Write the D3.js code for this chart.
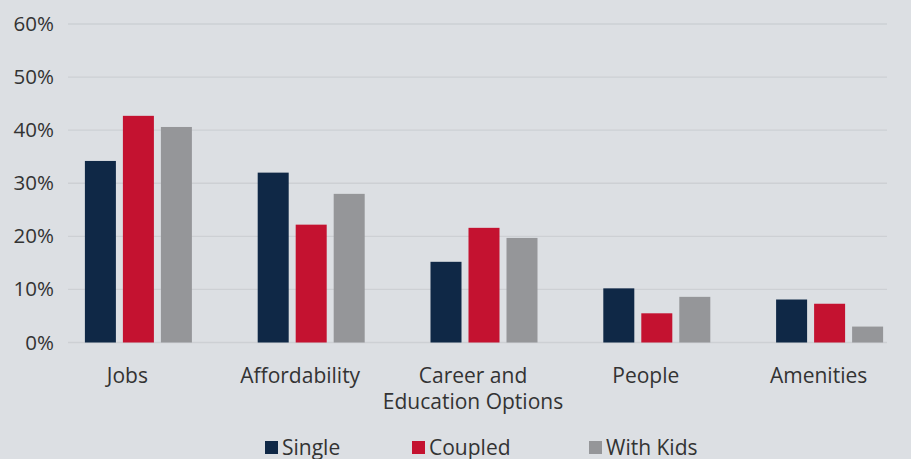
<!DOCTYPE html>
<html>
<head>
<meta charset="utf-8">
<script src="https://cdn.jsdelivr.net/npm/d3@7"></script>
<style>
  html, body { margin: 0; padding: 0; background: #dcdfe3; }
  svg { display: block; font-family: "Open Sans", sans-serif; }
</style>
</head>
<body>
<svg id="chart" width="911" height="459"></svg>
<script>
// Reasons for relocating, share of respondents by household type
const categories = ["Jobs", "Affordability", "Career and\nEducation Options", "People", "Amenities"];
const seriesNames = ["Single", "Coupled", "With Kids"];
const single   = [34.2, 32.0, 15.2, 10.2, 8.1];
const coupled  = [42.7, 22.2, 21.6, 5.5, 7.3];
const withKids = [40.6, 28.0, 19.7, 8.6, 3.0];
const yTicks = [0, 10, 20, 30, 40, 50, 60];
const colors = ["#0f2846", "#c41230", "#959699"];

const seriesValues = [single, coupled, withKids];
const svg = d3.select("#chart");

const x = d3.scaleBand().domain(categories).range([52, 916]);
const inner = d3.scaleBand().domain(seriesNames).range([-53.5, 53.5]).paddingInner(7 / 38);
const y = d3.scaleLinear().domain([0, 60]).range([342.5, 24]);
const labelShift = -11;

// Horizontal gridlines
svg.append("g")
  .selectAll("line")
  .data(yTicks)
  .join("line")
  .attr("x1", 68).attr("x2", 887)
  .attr("y1", d => y(d)).attr("y2", d => y(d))
  .attr("stroke", "#cdd0d4")
  .attr("stroke-width", 1.4);

// Y axis labels
const yAxis = d3.axisLeft(y).tickValues(yTicks).tickFormat(d => d + "%").tickSize(0).tickPadding(0);
const yg = svg.append("g").attr("transform", "translate(54,0)").call(yAxis);
yg.select(".domain").remove();
yg.selectAll("text")
  .attr("font-family", "Open Sans, sans-serif")
  .attr("font-size", 20.5)
  .attr("fill", "#333333");

// Bars
const groups = svg.append("g")
  .selectAll("g")
  .data(categories.map((c, i) => ({ c, vals: seriesValues.map((s, k) => ({ name: seriesNames[k], v: s[i], k })) })))
  .join("g")
  .attr("transform", d => `translate(${x(d.c) + x.bandwidth() / 2},0)`);

groups.selectAll("rect")
  .data(d => d.vals)
  .join("rect")
  .attr("x", d => inner(d.name))
  .attr("width", inner.bandwidth())
  .attr("y", d => y(d.v))
  .attr("height", d => y(0) - y(d.v))
  .attr("fill", d => colors[d.k]);

// Category labels
const xg = svg.append("g");
categories.forEach(c => {
  const cx = x(c) + x.bandwidth() / 2 + labelShift;
  const t = xg.append("text")
    .attr("x", cx)
    .attr("y", 383)
    .attr("text-anchor", "middle")
    .attr("font-size", 21)
    .attr("fill", "#333333");
  c.split("\n").forEach((ln, i) => {
    t.append("tspan")
      .attr("x", cx)
      .attr("dy", i === 0 ? 0 : 25.5)
      .text(ln);
  });
});

// Legend
const legendX = [265, 412, 589];
const legend = svg.append("g");
seriesNames.forEach((s, i) => {
  legend.append("rect")
    .attr("x", legendX[i]).attr("y", 441)
    .attr("width", 13).attr("height", 13)
    .attr("fill", colors[i]);
  legend.append("text")
    .attr("x", legendX[i] + 17).attr("y", 455)
    .attr("font-size", 21)
    .attr("fill", "#333333")
    .text(s);
});
</script>
</body>
</html>
